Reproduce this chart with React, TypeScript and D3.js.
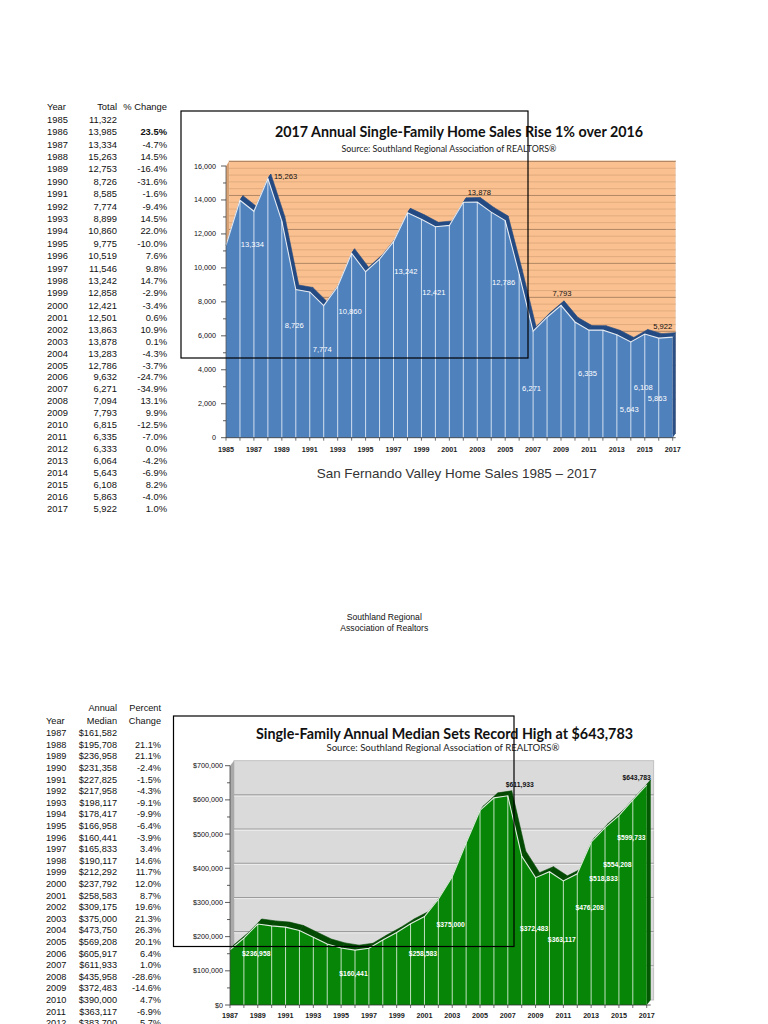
import React from 'react';
import * as d3 from 'd3';

// ---------- DATA ----------
const salesYears = [1985,1986,1987,1988,1989,1990,1991,1992,1993,1994,1995,1996,1997,1998,1999,2000,2001,2002,2003,2004,2005,2006,2007,2008,2009,2010,2011,2012,2013,2014,2015,2016,2017];
const salesTotals = [11322,13985,13334,15263,12753,8726,8585,7774,8899,10860,9775,10519,11546,13242,12858,12421,12501,13863,13878,13283,12786,9632,6271,7094,7793,6815,6335,6333,6064,5643,6108,5863,5922];
const salesPct: (number | null)[] = [null,23.5,-4.7,14.5,-16.4,-31.6,-1.6,-9.4,14.5,22.0,-10.0,7.6,9.8,14.7,-2.9,-3.4,0.6,10.9,0.1,-4.3,-3.7,-24.7,-34.9,13.1,9.9,-12.5,-7.0,0.0,-4.2,-6.9,8.2,-4.0,1.0];

const medianYears = [1987,1988,1989,1990,1991,1992,1993,1994,1995,1996,1997,1998,1999,2000,2001,2002,2003,2004,2005,2006,2007,2008,2009,2010,2011,2012,2013,2014,2015,2016,2017];
const medianValues = [161582,195708,236958,231358,227825,217958,198117,178417,166958,160441,165833,190117,212292,237792,258583,309175,375000,473750,569208,605917,611933,435958,372483,390000,363117,383700,476208,518833,554208,599733,643783];
const medianPct: (number | null)[] = [null,21.1,21.1,-2.4,-1.5,-4.3,-9.1,-9.9,-6.4,-3.9,3.4,14.6,11.7,12.0,8.7,19.6,21.3,26.3,20.1,6.4,1.0,-28.6,-14.6,4.7,-6.9,5.7];

const salesYTicks = [0,2000,4000,6000,8000,10000,12000,14000,16000];
const salesXTickYears = [1985,1987,1989,1991,1993,1995,1997,1999,2001,2003,2005,2007,2009,2011,2013,2015,2017];
const medianYTicks = [0,100000,200000,300000,400000,500000,600000,700000];
const medianXTickYears = [1987,1989,1991,1993,1995,1997,1999,2001,2003,2005,2007,2009,2011,2013,2015,2017];

const topInnerLabelYears = [1987,1990,1992,1994,1998,2000,2005,2007,2011,2014,2015,2016];
const topOuterLabelYears = [1988,2003,2009,2017];
const botInnerLabelYears = [1989,1996,2001,2003,2009,2011,2013,2014,2015,2016];
const botOuterLabelYears = [2007,2017];

// ---------- LAYOUT (offsets for labels, px) ----------
const topInnerLabelDy = [33,36,44,58,59,66,62,57,43,67,53,60];
const topOuterLabelLayout = [
  { dx: 6, dy: -2, anchor: 'start' },
  { dx: 2, dy: -10, anchor: 'middle' },
  { dx: 1, dy: -12, anchor: 'middle' },
  { dx: -10, dy: -11, anchor: 'middle' },
];
const botInnerLabelDy = [30,23,37,48,51,59,65,51,49,38];
const botOuterLabelLayout = [
  { dx: 12, dy: -11.5, anchor: 'middle' },
  { dx: -10, dy: -7, anchor: 'middle' },
];

const SANS = 'Liberation Sans, Arial, sans-serif';
const TITLE = 'Lato, Open Sans, sans-serif';
const fmt = d3.format(',');
const pctFmt = (v: number) => v.toFixed(1) + '%';

type ChartCfg = {
  years: number[]; values: number[];
  x0: number; x1: number; y0: number; y1: number; yMax: number;
  dx: number; dy: number;
  front: string; top: string; wall: string; side: string;
};

function Area3D({ cfg }: { cfg: ChartCfg }) {
  const { years, values, dx, dy } = cfg;
  const x = d3.scaleLinear().domain([years[0], years[years.length - 1]]).range([cfg.x0, cfg.x1]);
  const y = d3.scaleLinear().domain([0, cfg.yMax]).range([cfg.y0, cfg.y1]);
  const pts = years.map((yr, i) => [x(yr), y(values[i])] as [number, number]);
  const area = d3.area<[number, number]>().x(d => d[0]).y0(cfg.y0).y1(d => d[1]);
  const line = d3.line<[number, number]>().x(d => d[0]).y(d => d[1]);
  const last = pts[pts.length - 1];
  const first = pts[0];
  return (
    <g>
      {pts.slice(0, -1).map((p, i) => {
        const q = pts[i + 1];
        const poly = [p, q, [q[0] + dx, q[1] + dy], [p[0] + dx, p[1] + dy]] as [number, number][];
        return <path key={'t' + i} d={line(poly) + 'Z'} fill={cfg.top} stroke={cfg.top} strokeWidth={0.6} />;
      })}
      <path d={line([[first[0], first[1]], [first[0] + dx, first[1] + dy], [first[0] + dx, first[1] + 2]] as any) + 'Z'} fill={cfg.top} />
      <path d={line([[last[0], last[1]], [last[0] + dx, last[1] + dy], [last[0] + dx, cfg.y0 + dy], [last[0], cfg.y0]] as any) + 'Z'} fill={cfg.side} />
      <path d={area(pts) || ''} fill={cfg.front} />
      {pts.slice(1, -1).map((p, i) => (
        <line key={'v' + i} x1={p[0]} x2={p[0]} y1={p[1]} y2={cfg.y0} stroke="#ffffff" strokeOpacity={0.75} strokeWidth={1} />
      ))}
      <path d={line(pts) || ''} fill="none" stroke="#ffffff" strokeOpacity={0.85} strokeWidth={1.1} />
    </g>
  );
}

function TopChart() {
  const cfg: ChartCfg = {
    years: salesYears, values: salesTotals,
    x0: 226, x1: 672.7, y0: 437.7, y1: 166, yMax: 16000,
    dx: 3, dy: -4.5,
    front: '#4F81BD', top: '#234a82', wall: '#FAC090', side: '#2a4f86',
  };
  const x = d3.scaleLinear().domain([1985, 2017]).range([cfg.x0, cfg.x1]);
  const y = d3.scaleLinear().domain([0, 16000]).range([cfg.y0, cfg.y1]);
  const grid = d3.range(0, 16001, 400);
  const minorY = d3.range(1000, 16000, 2000);
  return (
    <g>
      <text x={459} y={137} textAnchor="middle" fontFamily={TITLE} fontWeight="bold" fontSize={14.5} textLength={368} lengthAdjust="spacingAndGlyphs" fill="#111">2017 Annual Single-Family Home Sales Rise 1% over 2016</text>
      <text x={449} y={151.5} textAnchor="middle" fontFamily={TITLE} fontSize={8.6} textLength={215} lengthAdjust="spacingAndGlyphs" fill="#222">Source: Southland Regional Association of REALTORS®</text>
      <rect x={cfg.x0 + cfg.dx} y={cfg.y1 + cfg.dy - 1} width={cfg.x1 - cfg.x0} height={cfg.y0 - cfg.y1 + 1} fill={cfg.wall} stroke="#e8d8c8" strokeWidth={0.6} />
      <path d={`M${cfg.x0},${cfg.y1} L${cfg.x0 + cfg.dx},${cfg.y1 + cfg.dy} L${cfg.x0 + cfg.dx},${cfg.y0 + cfg.dy} L${cfg.x0},${cfg.y0} Z`} fill="#d9a274" />
      {grid.map(v => (
        <line key={v} x1={cfg.x0 + cfg.dx} x2={cfg.x1 + cfg.dx} y1={y(v) + cfg.dy} y2={y(v) + cfg.dy}
          stroke={v % 2000 === 0 ? '#a88060' : '#dba679'} strokeWidth={v % 2000 === 0 ? 0.9 : 0.8} />
      ))}
      <Area3D cfg={cfg} />
      <line x1={cfg.x0} x2={cfg.x0} y1={cfg.y1} y2={cfg.y0} stroke="#555" strokeWidth={0.8} />
      <line x1={cfg.x0} x2={cfg.x1 + cfg.dx} y1={cfg.y0} y2={cfg.y0} stroke="#333" strokeWidth={0.8} />
      {salesYTicks.map(v => (
        <g key={v}>
          <line x1={cfg.x0 - 5} x2={cfg.x0} y1={y(v)} y2={y(v)} stroke="#333" strokeWidth={0.8} />
          <text x={216} y={y(v)} dy="0.35em" textAnchor="end" fontFamily={SANS} fontSize={7.2} fill="#111">{fmt(v)}</text>
        </g>
      ))}
      {minorY.map(v => <line key={v} x1={cfg.x0 - 3} x2={cfg.x0} y1={y(v)} y2={y(v)} stroke="#333" strokeWidth={0.8} />)}
      {salesYears.map(yr => <line key={yr} x1={x(yr)} x2={x(yr)} y1={cfg.y0} y2={cfg.y0 + 3} stroke="#333" strokeWidth={0.7} />)}
      {salesXTickYears.map(yr => (
        <text key={yr} x={x(yr)} y={449} dy="0.35em" textAnchor="middle" fontFamily={SANS} fontSize={7.2} fontWeight="bold" fill="#222">{yr}</text>
      ))}
      {topInnerLabelYears.map((yr, i) => {
        const v = salesTotals[salesYears.indexOf(yr)];
        return <text key={yr} x={x(yr) - 1.5} y={y(v) + topInnerLabelDy[i]} dy="0.35em" textAnchor="middle" fontFamily={SANS} fontSize={7.6} fill="#ffffff">{fmt(v)}</text>;
      })}
      {topOuterLabelYears.map((yr, i) => {
        const v = salesTotals[salesYears.indexOf(yr)];
        const l = topOuterLabelLayout[i];
        return <text key={yr} x={x(yr) + l.dx} y={y(v) + l.dy} dy="0.35em" textAnchor={l.anchor as any} fontFamily={SANS} fontSize={7.6} fill="#111">{fmt(v)}</text>;
      })}
      <text x={456.7} y={473} dy="0.35em" textAnchor="middle" fontFamily={SANS} fontSize={13.5} textLength={280} lengthAdjust="spacingAndGlyphs" fill="#333">San Fernando Valley Home Sales 1985 – 2017</text>
    </g>
  );
}

function BottomChart() {
  const cfg: ChartCfg = {
    years: medianYears, values: medianValues,
    x0: 230, x1: 646.7, y0: 1005, y1: 765.7, yMax: 700000,
    dx: 4, dy: -5,
    front: '#078507', top: '#034a03', wall: '#DADADA', side: '#045804',
  };
  const x = d3.scaleLinear().domain([1987, 2017]).range([cfg.x0, cfg.x1]);
  const y = d3.scaleLinear().domain([0, 700000]).range([cfg.y0, cfg.y1]);
  const minorY = d3.range(50000, 700000, 100000);
  const money = (v: number) => '$' + fmt(v);
  return (
    <g>
      <text x={444.5} y={738.5} textAnchor="middle" fontFamily={TITLE} fontWeight="bold" fontSize={14.5} textLength={377} lengthAdjust="spacingAndGlyphs" fill="#111">Single-Family Annual Median Sets Record High at $643,783</text>
      <text x={443} y={751} textAnchor="middle" fontFamily={TITLE} fontSize={8.6} textLength={233} lengthAdjust="spacingAndGlyphs" fill="#222">Source: Southland Regional Association of REALTORS®</text>
      <rect x={cfg.x0 + cfg.dx} y={cfg.y1 + cfg.dy} width={cfg.x1 - cfg.x0 + 3} height={cfg.y0 - cfg.y1} fill={cfg.wall} stroke="#b8b8b8" strokeWidth={0.8} />
      <path d={`M${cfg.x0},${cfg.y1} L${cfg.x0 + cfg.dx},${cfg.y1 + cfg.dy} L${cfg.x0 + cfg.dx},${cfg.y0 + cfg.dy} L${cfg.x0},${cfg.y0} Z`} fill="#a9a9a9" />
      {medianYTicks.slice(1, -1).map(v => (
        <g key={v}>
          <line x1={cfg.x0 + cfg.dx} x2={cfg.x1 + cfg.dx + 3} y1={y(v) + cfg.dy} y2={y(v) + cfg.dy} stroke="#9c9c9c" strokeWidth={1.1} />
          <line x1={cfg.x0 + cfg.dx} x2={cfg.x1 + cfg.dx + 3} y1={y(v) + cfg.dy + 1.2} y2={y(v) + cfg.dy + 1.2} stroke="#f2f2f2" strokeWidth={0.8} />
        </g>
      ))}
      <Area3D cfg={cfg} />
      <line x1={cfg.x0} x2={cfg.x0} y1={cfg.y1} y2={cfg.y0} stroke="#444" strokeWidth={0.8} />
      <line x1={cfg.x0} x2={cfg.x1 + cfg.dx} y1={cfg.y0} y2={cfg.y0} stroke="#333" strokeWidth={0.8} />
      {medianYTicks.map(v => (
        <g key={v}>
          <line x1={cfg.x0 - 5} x2={cfg.x0} y1={y(v)} y2={y(v)} stroke="#333" strokeWidth={0.8} />
          <text x={223} y={y(v)} dy="0.35em" textAnchor="end" fontFamily={SANS} fontSize={7.2} fill="#111">{money(v)}</text>
        </g>
      ))}
      {minorY.map(v => <line key={v} x1={cfg.x0 - 3} x2={cfg.x0} y1={y(v)} y2={y(v)} stroke="#333" strokeWidth={0.8} />)}
      {medianYears.map(yr => <line key={yr} x1={x(yr)} x2={x(yr)} y1={cfg.y0} y2={cfg.y0 + 3} stroke="#333" strokeWidth={0.7} />)}
      {medianXTickYears.map(yr => (
        <text key={yr} x={x(yr)} y={1015} dy="0.35em" textAnchor="middle" fontFamily={SANS} fontSize={7.2} fontWeight="bold" fill="#222">{yr}</text>
      ))}
      {botInnerLabelYears.map((yr, i) => {
        const v = medianValues[medianYears.indexOf(yr)];
        return <text key={yr} x={x(yr) - 1.5} y={y(v) + botInnerLabelDy[i]} dy="0.35em" textAnchor="middle" fontFamily={SANS} fontWeight="bold" fontSize={6.8} fill="#ffffff">{money(v)}</text>;
      })}
      {botOuterLabelYears.map((yr, i) => {
        const v = medianValues[medianYears.indexOf(yr)];
        const l = botOuterLabelLayout[i];
        return <text key={yr} x={x(yr) + l.dx} y={y(v) + l.dy} dy="0.35em" textAnchor={l.anchor as any} fontFamily={SANS} fontWeight="bold" fontSize={6.8} fill="#111">{money(v)}</text>;
      })}
    </g>
  );
}

function TopTable() {
  const rowY = (i: number) => (i <= 15 ? 119.5 + i * 12.4 : 119.5 + 15 * 12.4 + (i - 15) * 11.95);
  return (
    <g fontFamily={SANS} fontSize={9.4} fill="#111">
      <text x={47} y={107} dy="0.35em">Year</text>
      <text x={117} y={107} dy="0.35em" textAnchor="end">Total</text>
      <text x={167} y={107} dy="0.35em" textAnchor="end">% Change</text>
      {salesYears.map((yr, i) => (
        <g key={yr}>
          <text x={47} y={rowY(i)} dy="0.35em">{yr}</text>
          <text x={117} y={rowY(i)} dy="0.35em" textAnchor="end">{fmt(salesTotals[i])}</text>
          {salesPct[i] !== null && (
            <text x={167} y={rowY(i)} dy="0.35em" textAnchor="end" fontWeight={i === 1 ? 'bold' : 'normal'}>{pctFmt(salesPct[i] as number)}</text>
          )}
        </g>
      ))}
    </g>
  );
}

function BottomTable() {
  const rowY = (i: number) => 733 + i * 11.6;
  const rows = medianPct.length;
  return (
    <g fontFamily={SANS} fontSize={9.2} fill="#111">
      <text x={117} y={708} dy="0.35em" textAnchor="end">Annual</text>
      <text x={161} y={708} dy="0.35em" textAnchor="end">Percent</text>
      <text x={46} y={720.5} dy="0.35em">Year</text>
      <text x={117} y={720.5} dy="0.35em" textAnchor="end">Median</text>
      <text x={161} y={720.5} dy="0.35em" textAnchor="end">Change</text>
      {medianYears.slice(0, rows).map((yr, i) => (
        <g key={yr}>
          <text x={46} y={rowY(i)} dy="0.35em">{yr}</text>
          <text x={117} y={rowY(i)} dy="0.35em" textAnchor="end">{'$' + fmt(medianValues[i])}</text>
          {medianPct[i] !== null && (
            <text x={161} y={rowY(i)} dy="0.35em" textAnchor="end">{pctFmt(medianPct[i] as number)}</text>
          )}
        </g>
      ))}
    </g>
  );
}

export default function App() {
  return (
    <svg width={768} height={1024} viewBox="0 0 768 1024" style={{ position: 'absolute', left: 0, top: 0, background: '#ffffff' }}>
      <rect x={0} y={0} width={768} height={1024} fill="#ffffff" />
      <TopTable />
      <TopChart />
      <text x={384.3} y={616.7} dy="0.35em" textAnchor="middle" fontFamily={SANS} fontSize={8.6} fill="#111">Southland Regional</text>
      <text x={384.3} y={628.3} dy="0.35em" textAnchor="middle" fontFamily={SANS} fontSize={8.6} fill="#111">Association of Realtors</text>
      <BottomTable />
      <BottomChart />
      <rect x={181} y={111} width={347} height={247} fill="none" stroke="#000" strokeWidth={1.2} />
      <rect x={173.5} y={716} width={340.5} height={230.5} fill="none" stroke="#000" strokeWidth={1.2} />
    </svg>
  );
}
